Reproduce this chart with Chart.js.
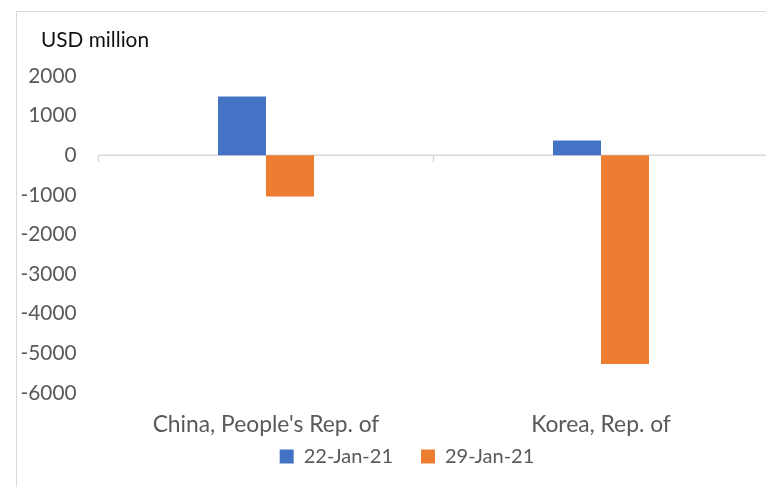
<!DOCTYPE html>
<html>
<head>
<meta charset="utf-8">
<script src="https://cdn.jsdelivr.net/npm/chart.js@4"></script>
<style>
  html, body { margin: 0; padding: 0; background: #fff; overflow: hidden; width: 766px; height: 487px; }
  #wrap { position: relative; width: 766px; height: 487px; overflow: hidden; }
  #frame { position: absolute; left: 16px; top: 11px; width: 800px; height: 500px;
           border-left: 1.5px solid #d9d9d9; border-top: 1.5px solid #d9d9d9; }
  #unit { position: absolute; left: 41px; top: 26px; font-family: Lato, sans-serif; font-size: 20.8px; color: #111; }
  canvas { position: absolute; left: 0; top: 0; }
</style>
</head>
<body>
<div id="wrap">
  <div id="frame"></div>
  <canvas id="c" width="814" height="487" style="width:814px;height:487px"></canvas>
  <div id="unit">USD million</div>
</div>
<script>
const categories = ["China, People's Rep. of", "Korea, Rep. of"];
const seriesNames = ["22-Jan-21", "29-Jan-21"];
const series22Jan = [1480, 370];
const series29Jan = [-1040, -5270];
const yMin = -6000, yMax = 2000, yStep = 1000;

const FONT = 'Lato, sans-serif';
const TXT = '#595959';
const AXIS = '#d9d9d9';
const Y_FONT_SIZE = 20.8;

// widest y tick label, so the mirrored right-aligned labels end 22px left of the plot
const mctx = document.createElement('canvas').getContext('2d');
mctx.font = `normal ${Y_FONT_SIZE}px ${FONT}`;
let widest = 0;
for (let v = yMin; v <= yMax; v += yStep) widest = Math.max(widest, mctx.measureText(String(v)).width);

const axisLines = {
  id: 'axisLines',
  beforeDatasetsDraw(chart) {
    const {ctx, scales: {x, y}} = chart;
    const y0 = y.getPixelForValue(0);
    const n = chart.data.labels.length;
    const half = (x.getPixelForValue(1) - x.getPixelForValue(0)) / 2;
    const left = x.getPixelForValue(0) - half;
    ctx.save();
    ctx.strokeStyle = AXIS;
    ctx.lineWidth = 1.5;
    ctx.beginPath();
    ctx.moveTo(left, y0);
    ctx.lineTo(chart.width, y0);
    for (let i = 0; i < n; i++) {
      const bx = x.getPixelForValue(i) - half;
      ctx.moveTo(bx, y0);
      ctx.lineTo(bx, y0 + 7);
    }
    ctx.stroke();
    ctx.restore();
  }
};

new Chart(document.getElementById('c'), {
  type: 'bar',
  data: {
    labels: categories,
    datasets: [
      { label: seriesNames[0], data: series22Jan, backgroundColor: '#4472C4', borderWidth: 0 },
      { label: seriesNames[1], data: series29Jan, backgroundColor: '#ED7D31', borderWidth: 0 }
    ]
  },
  options: {
    responsive: false,
    animation: false,
    devicePixelRatio: 1,
    categoryPercentage: 0.2866,
    barPercentage: 1,
    layout: { padding: { top: 76, left: 45.5, right: 45.5, bottom: 10.5 } },
    plugins: {
      tooltip: { enabled: false },
      legend: {
        position: 'bottom',
        labels: {
          font: { family: FONT, size: 20 },
          color: TXT,
          boxWidth: 14,
          boxHeight: 14,
          padding: 28
        }
      }
    },
    scales: {
      x: {
        grid: { display: false },
        border: { display: false },
        ticks: { font: { family: FONT, size: 22.8 }, color: TXT, mirror: true, padding: -45.7, maxRotation: 0, autoSkip: false },
        afterFit(s) { s.height = 25.5; }
      },
      y: {
        min: yMin, max: yMax,
        grid: { display: false, drawTicks: false },
        border: { display: false },
        ticks: {
          stepSize: yStep,
          font: { family: FONT, size: Y_FONT_SIZE },
          color: TXT,
          mirror: true,
          crossAlign: 'far',
          padding: -(22 + widest),
          callback: (v) => String(v)
        },
        afterFit(s) { s.width = 53; }
      }
    }
  },
  plugins: [axisLines]
});
</script>
</body>
</html>
